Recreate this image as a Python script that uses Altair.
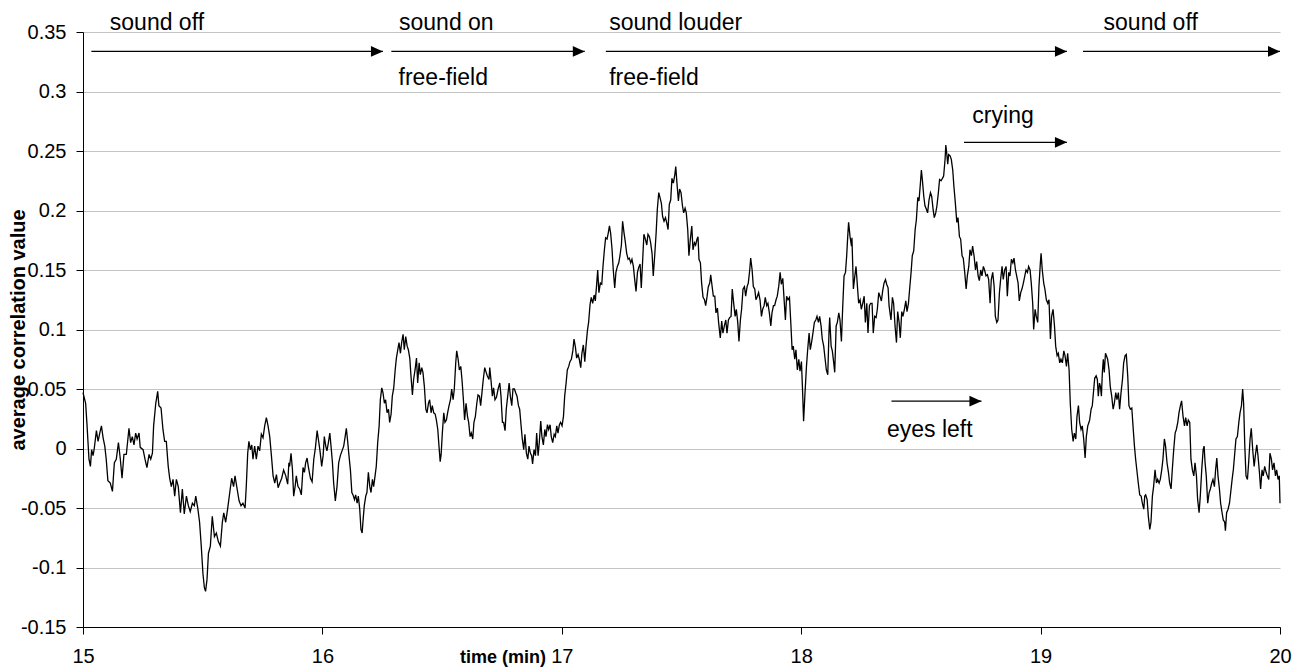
import altair as alt
import pandas as pd

# ---- series: time (min) and average correlation value ----
t1 = [15.000, 15.011, 15.017, 15.025, 15.031, 15.036, 15.042, 15.047, 15.056, 15.063,
      15.070, 15.077, 15.084, 15.091, 15.097, 15.104, 15.114, 15.123, 15.131, 15.139,
      15.148, 15.156, 15.163, 15.171, 15.181, 15.192, 15.199, 15.206, 15.213, 15.220,
      15.226, 15.234, 15.239, 15.251, 15.259, 15.267, 15.276, 15.283, 15.290, 15.295,
      15.304, 15.312, 15.317, 15.326, 15.334, 15.341, 15.348, 15.356, 15.362, 15.369,
      15.376, 15.383, 15.390, 15.398, 15.407, 15.415, 15.423, 15.432, 15.440, 15.448,
      15.457, 15.465, 15.471, 15.480, 15.487, 15.494, 15.501, 15.507, 15.512, 15.518,
      15.524, 15.532, 15.540, 15.549, 15.557, 15.565, 15.574, 15.582, 15.588, 15.596,
      15.604, 15.613, 15.621, 15.629, 15.635, 15.643, 15.652, 15.660, 15.668, 15.677,
      15.682, 15.688, 15.693, 15.699, 15.705, 15.710, 15.717, 15.724, 15.731, 15.738,
      15.745, 15.752, 15.759, 15.766, 15.773, 15.780, 15.787, 15.794, 15.801, 15.808,
      15.815, 15.822, 15.830, 15.838, 15.847, 15.855, 15.860]
v1 = [0.047, 0.038, 0.019, -0.009, -0.015, -0.001, -0.006, 0.000, 0.015, 0.006,
      0.013, 0.019, 0.009, 0.002, -0.009, -0.027, -0.029, -0.036, -0.012, -0.009,
      0.005, -0.009, -0.025, -0.005, -0.005, 0.017, 0.005, 0.010, 0.003, 0.013,
      0.008, 0.013, 0.001, -0.001, -0.009, -0.016, -0.005, -0.009, -0.004, 0.019,
      0.038, 0.048, 0.036, 0.034, 0.016, 0.006, 0.006, -0.015, -0.025, -0.032,
      -0.026, -0.040, -0.026, -0.032, -0.054, -0.034, -0.055, -0.040, -0.048, -0.053,
      -0.046, -0.048, -0.040, -0.051, -0.062, -0.082, -0.105, -0.117, -0.120, -0.110,
      -0.088, -0.082, -0.057, -0.074, -0.071, -0.078, -0.082, -0.062, -0.054, -0.062,
      -0.051, -0.037, -0.025, -0.032, -0.023, -0.033, -0.044, -0.048, -0.046, -0.050,
      -0.032, -0.004, 0.006, -0.001, 0.003, -0.009, 0.002, -0.009, 0.002, -0.002,
      0.012, 0.009, 0.019, 0.026, 0.019, 0.010, -0.006, -0.023, -0.029, -0.022,
      -0.033, -0.029, -0.025, -0.018, -0.023, -0.030, -0.012]

t2 = [15.863, 15.869, 15.875, 15.880, 15.886, 15.891, 15.898, 15.905, 15.912, 15.919,
      15.925, 15.930, 15.936, 15.941, 15.950, 15.957, 15.964, 15.971, 15.978, 15.983,
      15.990, 15.997, 16.003, 16.008, 16.014, 16.019, 16.025, 16.031, 16.036, 16.042,
      16.047, 16.054, 16.061, 16.068, 16.075, 16.082, 16.089, 16.095, 16.100, 16.106,
      16.111, 16.117, 16.123, 16.128, 16.134, 16.139, 16.145, 16.150, 16.156, 16.161,
      16.166, 16.170, 16.175, 16.181, 16.186, 16.192, 16.198, 16.203, 16.209, 16.214,
      16.220, 16.225, 16.231, 16.237, 16.242, 16.248, 16.253, 16.259, 16.264, 16.270,
      16.276, 16.281, 16.287, 16.292, 16.298, 16.304, 16.309, 16.315, 16.320, 16.326,
      16.331, 16.337, 16.342, 16.348, 16.354, 16.359, 16.365, 16.370, 16.376, 16.381,
      16.387, 16.393, 16.398, 16.404, 16.409, 16.415, 16.420, 16.426, 16.432, 16.437,
      16.443, 16.448, 16.454, 16.459, 16.465, 16.471, 16.476, 16.482, 16.487, 16.492,
      16.496, 16.501, 16.507, 16.512, 16.518, 16.523, 16.529, 16.535, 16.540, 16.546,
      16.551, 16.557, 16.561, 16.567, 16.572, 16.578, 16.583, 16.589, 16.594, 16.600,
      16.606, 16.611, 16.617, 16.622, 16.628, 16.633, 16.639, 16.645, 16.650, 16.656,
      16.661, 16.667, 16.672, 16.678, 16.684, 16.689, 16.696]
v2 = [-0.015, -0.004, -0.018, -0.040, -0.032, -0.023, -0.032, -0.034, -0.039, -0.016,
      -0.020, -0.012, -0.008, -0.015, -0.025, -0.028, -0.009, 0.001, 0.015, 0.008,
      -0.002, -0.015, -0.006, 0.010, 0.002, -0.002, 0.005, 0.013, 0.002, -0.012,
      -0.029, -0.044, -0.032, -0.012, -0.006, -0.002, 0.002, 0.010, 0.017, 0.005,
      -0.006, -0.018, -0.037, -0.039, -0.043, -0.039, -0.046, -0.040, -0.051, -0.068,
      -0.071, -0.060, -0.048, -0.040, -0.037, -0.020, -0.032, -0.037, -0.026, -0.032,
      -0.023, -0.015, 0.005, 0.019, 0.041, 0.051, 0.047, 0.038, 0.041, 0.030,
      0.033, 0.022, 0.029, 0.044, 0.051, 0.066, 0.076, 0.083, 0.089, 0.080,
      0.089, 0.096, 0.083, 0.094, 0.086, 0.083, 0.076, 0.061, 0.045, 0.058,
      0.066, 0.076, 0.055, 0.072, 0.062, 0.068, 0.064, 0.052, 0.033, 0.030,
      0.038, 0.041, 0.030, 0.036, 0.030, 0.029, 0.024, 0.016, 0.002, -0.011,
      -0.005, 0.013, 0.030, 0.022, 0.024, 0.030, 0.036, 0.041, 0.050, 0.041,
      0.050, 0.072, 0.082, 0.075, 0.066, 0.069, 0.058, 0.041, 0.024, 0.038,
      0.027, 0.022, 0.010, 0.013, 0.008, 0.022, 0.027, 0.038, 0.045, 0.044,
      0.036, 0.048, 0.058, 0.068, 0.064, 0.061, 0.058]

t3 = [16.699, 16.704, 16.710, 16.715, 16.721, 16.727, 16.734, 16.741, 16.746, 16.752,
      16.757, 16.763, 16.768, 16.774, 16.780, 16.785, 16.791, 16.796, 16.802, 16.807,
      16.813, 16.819, 16.824, 16.830, 16.835, 16.841, 16.846, 16.852, 16.858, 16.863,
      16.869, 16.874, 16.878, 16.884, 16.890, 16.895, 16.901, 16.906, 16.912, 16.917,
      16.923, 16.929, 16.934, 16.940, 16.945, 16.951, 16.956, 16.962, 16.968, 16.973,
      16.979, 16.984, 16.990, 16.995, 17.001, 17.007, 17.012, 17.018, 17.023, 17.029,
      17.034, 17.040, 17.046, 17.051, 17.057, 17.062, 17.068, 17.073, 17.079, 17.084,
      17.090, 17.096, 17.101, 17.107, 17.112, 17.118, 17.123, 17.129, 17.135, 17.140,
      17.146, 17.150, 17.155, 17.161, 17.167, 17.172, 17.178, 17.183, 17.189, 17.194,
      17.199, 17.204, 17.210, 17.215, 17.221, 17.226, 17.232, 17.238, 17.243, 17.249,
      17.254, 17.260, 17.265, 17.271, 17.277, 17.282, 17.288, 17.293, 17.299, 17.304,
      17.310, 17.316, 17.321, 17.327, 17.332, 17.338, 17.343, 17.349, 17.355, 17.360,
      17.366, 17.371, 17.377, 17.382, 17.388, 17.394, 17.399, 17.405, 17.410, 17.416,
      17.421, 17.427, 17.433, 17.438, 17.444, 17.449, 17.455, 17.460, 17.466, 17.472,
      17.476, 17.481, 17.487, 17.492, 17.498, 17.504, 17.509, 17.515, 17.520, 17.526]
v3 = [0.068, 0.058, 0.044, 0.051, 0.041, 0.043, 0.050, 0.055, 0.044, 0.022,
      0.022, 0.015, 0.033, 0.044, 0.055, 0.044, 0.036, 0.050, 0.050, 0.047,
      0.044, 0.036, 0.033, 0.019, 0.008, -0.001, 0.012, -0.004, -0.009, 0.002,
      -0.004, -0.006, -0.013, -0.001, -0.006, 0.013, -0.006, 0.005, 0.023, 0.010,
      0.003, 0.016, 0.010, 0.020, 0.016, 0.020, 0.010, 0.005, 0.012, 0.010,
      0.019, 0.013, 0.020, 0.022, 0.019, 0.027, 0.044, 0.055, 0.066, 0.069,
      0.073, 0.075, 0.082, 0.092, 0.085, 0.076, 0.079, 0.075, 0.068, 0.080,
      0.087, 0.073, 0.086, 0.099, 0.106, 0.121, 0.127, 0.122, 0.129, 0.124,
      0.139, 0.150, 0.131, 0.139, 0.138, 0.153, 0.167, 0.177, 0.176, 0.181,
      0.187, 0.181, 0.167, 0.150, 0.135, 0.148, 0.153, 0.156, 0.162, 0.171,
      0.191, 0.181, 0.174, 0.164, 0.159, 0.160, 0.156, 0.159, 0.153, 0.143,
      0.132, 0.148, 0.152, 0.155, 0.135, 0.159, 0.180, 0.176, 0.171, 0.180,
      0.178, 0.173, 0.164, 0.145, 0.162, 0.181, 0.201, 0.215, 0.211, 0.206,
      0.195, 0.191, 0.194, 0.190, 0.184, 0.205, 0.209, 0.227, 0.223, 0.230,
      0.237, 0.223, 0.208, 0.218, 0.215, 0.204, 0.198, 0.202, 0.198, 0.184]

t4 = [17.531, 17.537, 17.543, 17.548, 17.554, 17.559, 17.565, 17.569, 17.573, 17.579,
      17.584, 17.590, 17.596, 17.601, 17.607, 17.612, 17.618, 17.622, 17.628, 17.633,
      17.639, 17.644, 17.650, 17.655, 17.662, 17.668, 17.673, 17.679, 17.685, 17.690,
      17.696, 17.701, 17.707, 17.712, 17.718, 17.724, 17.729, 17.735, 17.740, 17.746,
      17.751, 17.757, 17.763, 17.768, 17.774, 17.779, 17.785, 17.789, 17.795, 17.800,
      17.806, 17.811, 17.817, 17.822, 17.828, 17.834, 17.839, 17.845, 17.850, 17.856,
      17.861, 17.867, 17.873, 17.878, 17.884, 17.889, 17.895, 17.900, 17.906, 17.912,
      17.917, 17.923, 17.928, 17.934, 17.939, 17.945, 17.951, 17.956, 17.962, 17.967,
      17.973, 17.978, 17.984, 17.990, 17.995, 18.001, 18.006, 18.010, 18.016, 18.022,
      18.027, 18.033, 18.038, 18.044, 18.049, 18.055, 18.061, 18.066, 18.072, 18.077,
      18.083, 18.088, 18.094, 18.100, 18.105, 18.111, 18.116, 18.119, 18.125, 18.130,
      18.136, 18.140, 18.146, 18.151, 18.157, 18.162, 18.168, 18.173, 18.179, 18.185,
      18.190, 18.194, 18.198, 18.204, 18.210, 18.212, 18.218, 18.224, 18.229, 18.235,
      18.240, 18.246, 18.251, 18.257, 18.263, 18.268, 18.274, 18.279, 18.285, 18.290,
      18.296, 18.301, 18.307, 18.313, 18.318, 18.324, 18.329, 18.335, 18.340, 18.346,
      18.352, 18.357, 18.363, 18.367]
v4 = [0.162, 0.176, 0.187, 0.167, 0.173, 0.171, 0.176, 0.178, 0.159, 0.156,
      0.139, 0.127, 0.125, 0.120, 0.128, 0.136, 0.139, 0.146, 0.136, 0.128,
      0.128, 0.114, 0.118, 0.106, 0.093, 0.107, 0.097, 0.103, 0.108, 0.097,
      0.108, 0.110, 0.111, 0.134, 0.122, 0.111, 0.117, 0.106, 0.090, 0.108,
      0.117, 0.134, 0.136, 0.128, 0.136, 0.139, 0.150, 0.160, 0.150, 0.136,
      0.134, 0.125, 0.128, 0.131, 0.125, 0.111, 0.117, 0.120, 0.127, 0.120,
      0.122, 0.114, 0.103, 0.114, 0.120, 0.120, 0.125, 0.128, 0.136, 0.148,
      0.138, 0.143, 0.127, 0.108, 0.128, 0.125, 0.127, 0.108, 0.083, 0.086,
      0.075, 0.083, 0.066, 0.075, 0.065, 0.073, 0.047, 0.023, 0.047, 0.069,
      0.083, 0.097, 0.083, 0.090, 0.097, 0.106, 0.108, 0.111, 0.106, 0.111,
      0.103, 0.092, 0.086, 0.075, 0.066, 0.062, 0.097, 0.110, 0.086, 0.082,
      0.072, 0.064, 0.103, 0.106, 0.114, 0.108, 0.090, 0.117, 0.145, 0.148,
      0.162, 0.177, 0.190, 0.178, 0.170, 0.177, 0.134, 0.145, 0.153, 0.136,
      0.122, 0.125, 0.117, 0.122, 0.128, 0.106, 0.122, 0.097, 0.120, 0.122,
      0.122, 0.097, 0.111, 0.110, 0.117, 0.131, 0.128, 0.124, 0.132, 0.139,
      0.142, 0.138, 0.135, 0.120]

t5 = [18.375, 18.381, 18.386, 18.392, 18.398, 18.403, 18.409, 18.414, 18.420, 18.425,
      18.431, 18.437, 18.442, 18.448, 18.453, 18.459, 18.464, 18.470, 18.476, 18.481,
      18.487, 18.492, 18.498, 18.502, 18.506, 18.512, 18.517, 18.523, 18.528, 18.534,
      18.540, 18.545, 18.551, 18.556, 18.562, 18.567, 18.573, 18.578, 18.584, 18.590,
      18.595, 18.601, 18.604, 18.608, 18.612, 18.616, 18.622, 18.627, 18.633, 18.638,
      18.644, 18.650, 18.655, 18.661, 18.666, 18.672, 18.677, 18.683, 18.689, 18.694,
      18.700, 18.705, 18.711, 18.716, 18.722, 18.728, 18.733, 18.739, 18.744, 18.750,
      18.755, 18.761, 18.766, 18.772, 18.778, 18.783, 18.789, 18.794, 18.800, 18.806,
      18.811, 18.817, 18.822, 18.828, 18.833, 18.839, 18.844, 18.850, 18.856, 18.861,
      18.867, 18.872, 18.878, 18.884, 18.889, 18.895, 18.900, 18.906, 18.911, 18.917,
      18.922, 18.928, 18.934, 18.939, 18.945, 18.950, 18.956, 18.961, 18.967, 18.971,
      18.977, 18.982, 18.988, 18.993, 18.999, 19.002, 19.007, 19.013, 19.018, 19.024,
      19.030, 19.035, 19.041, 19.046, 19.052, 19.058, 19.063, 19.069, 19.074, 19.080,
      19.085, 19.091, 19.097, 19.102, 19.108, 19.113, 19.119, 19.124, 19.130, 19.136,
      19.141, 19.147, 19.152, 19.158, 19.163, 19.169, 19.174, 19.180, 19.186, 19.191,
      19.197, 19.202]
v5 = [0.108, 0.127, 0.122, 0.103, 0.089, 0.115, 0.106, 0.093, 0.115, 0.111,
      0.117, 0.124, 0.115, 0.122, 0.134, 0.148, 0.162, 0.166, 0.184, 0.192,
      0.211, 0.208, 0.223, 0.234, 0.226, 0.212, 0.204, 0.201, 0.198, 0.209,
      0.215, 0.212, 0.201, 0.194, 0.198, 0.204, 0.215, 0.226, 0.225, 0.227,
      0.229, 0.243, 0.255, 0.248, 0.239, 0.247, 0.246, 0.243, 0.234, 0.220,
      0.206, 0.190, 0.194, 0.178, 0.176, 0.162, 0.160, 0.148, 0.134, 0.145,
      0.153, 0.167, 0.162, 0.170, 0.162, 0.150, 0.157, 0.145, 0.141, 0.150,
      0.145, 0.153, 0.150, 0.145, 0.146, 0.142, 0.122, 0.142, 0.148, 0.136,
      0.111, 0.106, 0.108, 0.131, 0.142, 0.153, 0.142, 0.150, 0.153, 0.128,
      0.148, 0.145, 0.159, 0.156, 0.160, 0.150, 0.145, 0.139, 0.124, 0.131,
      0.134, 0.139, 0.145, 0.150, 0.148, 0.153, 0.150, 0.139, 0.122, 0.100,
      0.117, 0.111, 0.106, 0.136, 0.156, 0.164, 0.150, 0.139, 0.134, 0.125,
      0.122, 0.125, 0.092, 0.111, 0.117, 0.103, 0.086, 0.078, 0.080, 0.072,
      0.075, 0.072, 0.082, 0.078, 0.069, 0.080, 0.066, 0.038, 0.016, 0.006,
      0.013, 0.008, 0.027, 0.036, 0.022, 0.016, 0.019, 0.008, -0.008, 0.010,
      0.019, 0.022]

t6 = [19.205, 19.211, 19.216, 19.222, 19.226, 19.232, 19.237, 19.241, 19.246, 19.250,
      19.254, 19.258, 19.262, 19.266, 19.271, 19.275, 19.280, 19.286, 19.291, 19.297,
      19.303, 19.308, 19.314, 19.319, 19.325, 19.330, 19.336, 19.342, 19.347, 19.353,
      19.358, 19.364, 19.369, 19.375, 19.381, 19.386, 19.392, 19.397, 19.403, 19.408,
      19.414, 19.420, 19.425, 19.431, 19.435, 19.439, 19.445, 19.450, 19.456, 19.461,
      19.467, 19.472, 19.478, 19.484, 19.489, 19.495, 19.500, 19.506, 19.511, 19.517,
      19.522, 19.528, 19.534, 19.539, 19.545, 19.550, 19.556, 19.562, 19.567, 19.573,
      19.578, 19.584, 19.589, 19.595, 19.601, 19.606, 19.612, 19.617, 19.623, 19.628,
      19.634, 19.640, 19.645, 19.651, 19.656, 19.662, 19.667, 19.673, 19.679, 19.683,
      19.687, 19.692, 19.698, 19.704, 19.709, 19.715, 19.720, 19.726, 19.731, 19.736,
      19.741, 19.747, 19.752, 19.758, 19.763, 19.769, 19.772, 19.777, 19.783, 19.789,
      19.794, 19.800, 19.805, 19.811, 19.816, 19.822, 19.828, 19.833, 19.839, 19.844,
      19.848, 19.853, 19.858, 19.864, 19.869, 19.875, 19.880, 19.886, 19.892, 19.897,
      19.903, 19.908, 19.914, 19.919, 19.925, 19.930, 19.936, 19.942, 19.947, 19.953,
      19.958, 19.964, 19.969, 19.975, 19.981, 19.986, 19.992, 19.997, 20.000]
v6 = [0.024, 0.033, 0.036, 0.050, 0.059, 0.061, 0.058, 0.044, 0.055, 0.052,
      0.044, 0.064, 0.075, 0.064, 0.080, 0.078, 0.075, 0.066, 0.052, 0.044,
      0.033, 0.038, 0.047, 0.041, 0.047, 0.033, 0.047, 0.058, 0.072, 0.078,
      0.079, 0.061, 0.036, 0.033, 0.034, 0.019, 0.002, -0.009, -0.020, -0.029,
      -0.039, -0.040, -0.046, -0.051, -0.040, -0.039, -0.043, -0.057, -0.068, -0.062,
      -0.040, -0.032, -0.018, -0.029, -0.026, -0.029, -0.026, -0.018, -0.009, 0.008,
      0.002, -0.012, -0.020, -0.029, -0.034, -0.018, -0.001, 0.013, 0.016, 0.022,
      0.030, 0.036, 0.040, 0.027, 0.019, 0.026, 0.019, 0.024, 0.022, -0.009,
      -0.018, -0.023, -0.012, -0.023, -0.043, -0.054, -0.040, -0.018, -0.001, 0.002,
      -0.012, -0.023, -0.046, -0.037, -0.034, -0.029, -0.026, -0.032, -0.018, -0.008,
      -0.023, -0.034, -0.046, -0.054, -0.060, -0.062, -0.069, -0.054, -0.051, -0.046,
      -0.037, -0.026, -0.018, -0.004, 0.008, 0.010, 0.022, 0.030, 0.036, 0.050,
      0.038, 0.002, -0.023, -0.026, -0.012, 0.008, 0.017, -0.001, -0.015, -0.006,
      0.003, -0.006, -0.020, -0.034, -0.018, -0.023, -0.015, -0.020, -0.023, -0.026,
      -0.004, -0.009, -0.018, -0.012, -0.023, -0.018, -0.026, -0.023, -0.046]

# ---- annotations ----
arrow_start = [15.035, 16.288, 17.184, 19.177, 18.680, 18.377]
arrow_end = [16.253, 17.096, 19.110, 20.000, 19.110, 18.753]
arrow_y = [0.3337, 0.3337, 0.3337, 0.3337, 0.2573, 0.0398]

label_text = ["sound off", "sound on", "free-field", "sound louder", "free-field",
              "sound off", "crying", "eyes left"]
label_x = [15.112, 16.320, 16.318, 17.198, 17.198, 19.263, 18.715, 18.358]
label_y = [0.352, 0.352, 0.3058, 0.352, 0.3058, 0.352, 0.2736, 0.0099]

x_ticks = [15, 16, 17, 18, 19, 20]
y_ticks = [-0.15, -0.1, -0.05, 0, 0.05, 0.1, 0.15, 0.2, 0.25, 0.3, 0.35]

times, values = [], []
for tt, vv in [(t1, v1), (t2, v2), (t3, v3), (t4, v4), (t5, v5), (t6, v6)]:
    assert len(tt) == len(vv), (len(tt), len(vv), tt[0])
    times += tt
    values += vv

df = pd.DataFrame({"time": times, "corr": values})
arrows_df = pd.DataFrame({"x": arrow_start, "x2": arrow_end, "y": arrow_y})
labels_df = pd.DataFrame({"label": label_text, "x": label_x, "y": label_y})

FONT = "Liberation Sans"
x_scale = alt.Scale(domain=[15, 20], nice=False, zero=False)
y_scale = alt.Scale(domain=[-0.15, 0.35], nice=False, zero=False)

x_axis = alt.Axis(
    values=x_ticks, format="d", grid=False, labelFlush=False, labelOverlap=False,
    domainColor="black", tickColor="black", tickSize=7, labelColor="black",
    labelFont=FONT, labelFontSize=20, labelPadding=12,
    title="time (min)", titleFont=FONT, titleFontSize=18, titleFontWeight="bold",
    titleColor="black", titleX=419.5, titleY=35.5, titleBaseline="alphabetic",
    titleAlign="center",
)
y_axis = alt.Axis(
    values=y_ticks, grid=True, gridColor="#c4c4c4", gridWidth=1,
    labelFlush=False, labelOverlap=False,
    labelExpr="datum.value == 0 ? '0' : (datum.value < 0 ? '-' : '') + format(abs(datum.value), '~g')",
    domainColor="black", tickColor="black", tickSize=7, labelColor="black",
    labelFont=FONT, labelFontSize=20, labelPadding=10,
    title="average correlation value", titleFont=FONT, titleFontSize=20,
    titleFontWeight="bold", titleColor="black", titleAngle=270,
    titleX=-58.5, titleY=297.5, titleBaseline="alphabetic", titleAlign="center",
)

line = alt.Chart(df).mark_line(color="black", strokeWidth=1.3).encode(
    x=alt.X("time:Q", scale=x_scale, axis=x_axis),
    y=alt.Y("corr:Q", scale=y_scale, axis=y_axis),
)

rules = alt.Chart(arrows_df).mark_rule(color="black", strokeWidth=1.3).encode(
    x=alt.X("x:Q", scale=x_scale, axis=x_axis),
    x2="x2:Q",
    y=alt.Y("y:Q", scale=y_scale, axis=y_axis),
)

heads = alt.Chart(arrows_df).mark_point(
    shape="M0,0 L-2,-0.9 L-2,0.9 Z", size=144, filled=True, color="black",
    opacity=1, strokeWidth=0,
).encode(
    x=alt.X("x2:Q", scale=x_scale, axis=x_axis),
    y=alt.Y("y:Q", scale=y_scale, axis=y_axis),
)

labels = alt.Chart(labels_df).mark_text(
    align="left", baseline="alphabetic", fontSize=23, font=FONT, color="black",
).encode(
    x=alt.X("x:Q", scale=x_scale, axis=x_axis),
    y=alt.Y("y:Q", scale=y_scale, axis=y_axis),
    text="label:N",
)

chart = alt.layer(line, rules, heads, labels).properties(
    width=1197, height=595,
    autosize=alt.AutoSizeParams(type="none"),
    padding={"left": 75, "top": 24, "right": 16, "bottom": 46},
    background="white",
).configure_view(stroke="transparent")

chart.save("out.html", embed_options={"renderer": "svg", "actions": False})
